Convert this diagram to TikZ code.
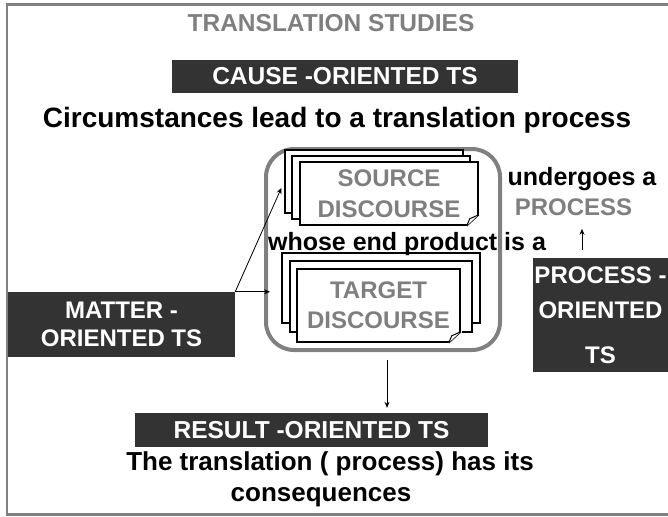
\documentclass[tikz,border=0pt]{standalone}
\usepackage{fontspec}
\setmainfont{Liberation Sans}
\usetikzlibrary{arrows.meta, positioning}
\definecolor{boxgray}{HTML}{333333}
\definecolor{labelgray}{HTML}{7F7F7F}
\definecolor{framegray}{HTML}{808080}

\begin{document}
\begin{tikzpicture}[x=1pt, y=-1pt,
    darkbox/.style={rectangle, fill=boxgray, text=white, inner sep=0pt, align=center, font=\bfseries\fontsize{24.5}{28}\selectfont},
    plain/.style={inner sep=0pt, anchor=base, font=\bfseries\fontsize{24}{28}\selectfont},
    page/.style={rectangle, draw, line width=1.5pt, fill=white, inner sep=0pt},
    pagetext/.style={text=labelgray, align=center, font=\bfseries\fontsize{24}{31}\selectfont},
    arrow/.style={-{Stealth[length=6pt, width=5pt]}, line width=0.8pt}
]
\useasboundingbox (0,0) rectangle (668,516);
% frame of the slide
\draw[framegray, line width=2.5pt] (668,4.5) -- (7.2,4.5) -- (7.2,514.7) -- (668,514.7);

\node[plain, text=labelgray, font=\bfseries\fontsize{24.5}{28}\selectfont] (title) at (331,32) {TRANSLATION STUDIES};
\node[darkbox, minimum width=346, minimum height=33] (cause) at (345,76.5) {CAUSE -ORIENTED TS};
\node[plain, font=\bfseries\fontsize{28}{30}\selectfont] (cause-text) at (337,127) {Circumstances lead to a translation process};

% the two discourses
\node[draw=framegray, line width=4pt, rounded corners=28pt, minimum width=234, minimum height=201, inner sep=0pt] (stage) at (383,249.5) {};
\node[page, minimum width=178, minimum height=63] (src-back) at (374,181.5) {};
\node[page, minimum width=178, minimum height=63] (src-mid) at (381,187.5) {};
\node[page, pagetext, minimum width=178, minimum height=63] (src) at (389,193.5) {SOURCE\\DISCOURSE};
\node[page, minimum width=198, minimum height=70] (tgt-back) at (381,288) {};
\node[page, minimum width=182, minimum height=71] (tgt-mid) at (381,296.5) {};
\node[page, pagetext, font=\bfseries\fontsize{24}{30}\selectfont, minimum width=163, minimum height=73] (tgt) at (378.5,305.5) {TARGET\\DISCOURSE};
\foreach \pg in {src, tgt} {
  \fill[white] ([xshift=-13pt,yshift=-1pt]\pg.south east) -- ([xshift=1pt,yshift=-1pt]\pg.south east) -- ([xshift=1pt,yshift=12pt]\pg.south east) -- cycle;
  \draw[line width=1.5pt, line join=round] ([yshift=11pt]\pg.south east) -- ([xshift=-12pt]\pg.south east);
  \draw[line width=1pt, fill=white, line join=round] ([yshift=11pt]\pg.south east) -- ([xshift=-9pt,yshift=7pt]\pg.south east) -- ([xshift=-12pt]\pg.south east);
}
\node[plain, font=\bfseries\fontsize{25}{28}\selectfont] (whose) at (407,250) {whose end product is a};
\node[plain, font=\bfseries\fontsize{25}{28}\selectfont] (undergoes) at (582,185) {undergoes a};
\node[plain, text=labelgray] (process-word) at (573.5,215) {PROCESS};

\node[darkbox, minimum width=135, minimum height=114, font=\bfseries\fontsize{24}{35}\selectfont] (proc) at (600.5,315) {PROCESS -\\ORIENTED\\[10pt]TS};
\node[darkbox, minimum width=227, minimum height=65, font=\bfseries\fontsize{24}{28}\selectfont] (matter) at (121.5,324.5) {MATTER -\\ORIENTED TS};
\node[darkbox, minimum width=353, minimum height=34] (result) at (311.5,430) {RESULT -ORIENTED TS};
\node[plain, font=\bfseries\fontsize{26}{30}\selectfont] (effect) at (330,470) {The translation ( process) has its};
\node[plain, font=\bfseries\fontsize{26}{30}\selectfont] (effect-end) at (321,501) {consequences};

\draw[arrow, shorten >=7pt] (matter.north east) -- (src-back.west);
\draw[arrow] (matter.north east) -- ([xshift=6pt]stage.west |- matter.north east);
\draw[arrow, shorten >=5pt] ([xshift=4pt,yshift=-8pt]stage.south) -- ([xshift=4pt]stage.south |- result.north);
\draw[arrow] ([xshift=-18.5pt,yshift=8pt]proc.north) -- ([xshift=-18.5pt,yshift=29pt]proc.north);
\end{tikzpicture}
\end{document}
